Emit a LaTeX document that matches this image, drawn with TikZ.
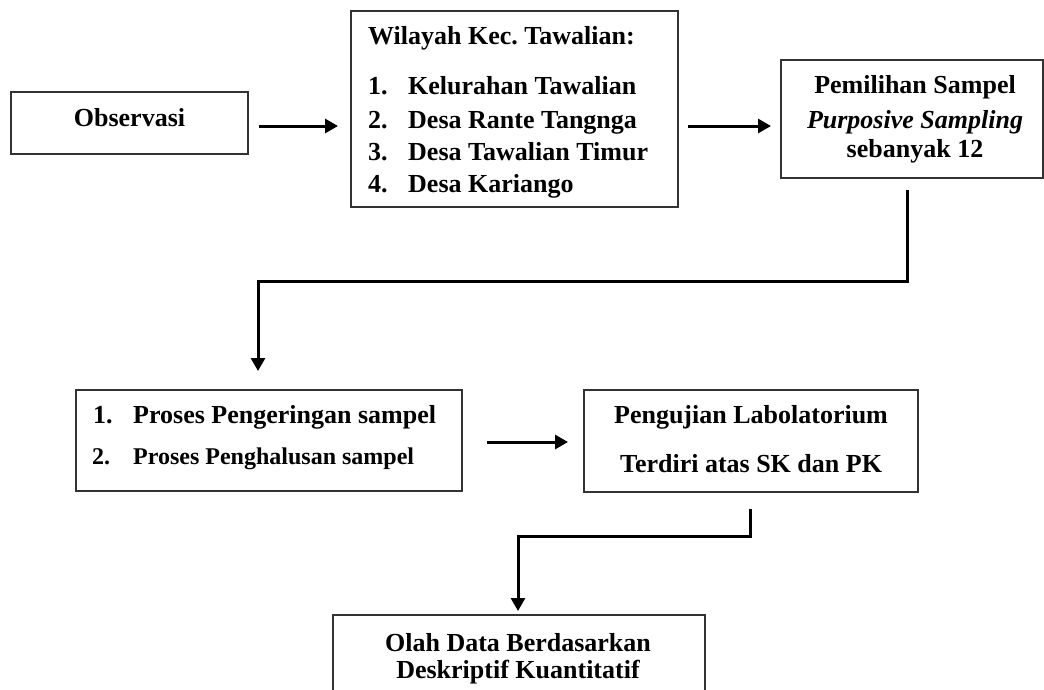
\documentclass[tikz,border=0pt]{standalone}
\usepackage{fontspec}
\setmainfont{Liberation Serif}
\usetikzlibrary{arrows.meta}
\frenchspacing
\tikzset{
  box/.style={draw=black!80, line width=1.6pt, inner sep=0pt},
  conn/.style={line width=3pt},
  arr/.style={conn, -{Triangle[length=13pt,width=14pt]}},
  txt/.style={font=\bfseries\fontsize{26}{30}\selectfont, inner sep=0pt},
  stxt/.style={font=\bfseries\fontsize{24}{28}\selectfont, inner sep=0pt}
}
\begin{document}
\begin{tikzpicture}[x=1pt,y=-1pt]
\clip (0,0) rectangle (1044,689);
\fill[white] (0,0) rectangle (1044,689);
% boxes
\node[box, minimum width=237pt, minimum height=62pt] (obs) at (129.5,123) {};
\node[box, minimum width=327pt, minimum height=196pt] (wil) at (514.5,109) {};
\node[box, minimum width=262pt, minimum height=118pt] (pem) at (912,119) {};
\node[box, minimum width=386pt, minimum height=101pt] (proc) at (269,440.5) {};
\node[box, minimum width=334pt, minimum height=102pt] (uji) at (751,441) {};
\node[box, minimum width=372pt, minimum height=100pt] (olah) at (519,665) {};
% texts
\node[txt, anchor=base] (tobs) at (129.5,126) {Observasi};
\node[txt, anchor=base west] (twil) at (368,44) {Wilayah Kec.\ Tawalian:};
\node[txt, anchor=base west] (n1) at (368,94) {1.};
\node[txt, anchor=base west] (i1) at (408,94) {Kelurahan Tawalian};
\node[txt, anchor=base west] (n2) at (368,128) {2.};
\node[txt, anchor=base west] (i2) at (408,128) {Desa Rante Tangnga};
\node[txt, anchor=base west] (n3) at (368,160) {3.};
\node[txt, anchor=base west] (i3) at (408,160) {Desa Tawalian Timur};
\node[txt, anchor=base west] (n4) at (368,192) {4.};
\node[txt, anchor=base west] (i4) at (408,192) {Desa Kariango};
\node[txt, anchor=base] (p1) at (915,93) {Pemilihan Sampel};
\node[txt, anchor=base] (p2) at (915,128) {\itshape Purposive Sampling};
\node[txt, anchor=base] (p3) at (915,157) {sebanyak 12};
\node[txt, anchor=base west] (m1) at (93,423) {1.};
\node[txt, anchor=base west] (q1) at (133,423) {Proses Pengeringan sampel};
\node[stxt, anchor=base west] (m2) at (92,464) {2.};
\node[stxt, anchor=base west] (q2) at (133,464) {Proses Penghalusan sampel};
\node[txt, anchor=base] (u1) at (751,423) {Pengujian Labolatorium};
\node[txt, anchor=base] (u2) at (751,472) {Terdiri atas SK dan PK};
\node[txt, anchor=base] (o1) at (518,651) {Olah Data Berdasarkan};
\node[txt, anchor=base] (o2) at (518,678) {Deskriptif Kuantitatif};
% connectors
\coordinate (c1s) at (259,126);
\coordinate (c1e) at (338,126);
\draw[arr] (c1s) -- (c1e);
\coordinate (c2s) at (688,126);
\coordinate (c2e) at (771,126);
\draw[arr] (c2s) -- (c2e);
\coordinate (c3s) at (907,190);
\coordinate (c3e) at (258,371);
\draw[arr] (c3s) -- (907,281) -| (c3e);
\coordinate (c4s) at (487,442);
\coordinate (c4e) at (568,442);
\draw[arr] (c4s) -- (c4e);
\coordinate (c5s) at (750,509);
\coordinate (c5e) at (518,611);
\draw[arr] (c5s) -- (750,536) -| (c5e);
\end{tikzpicture}
\end{document}
